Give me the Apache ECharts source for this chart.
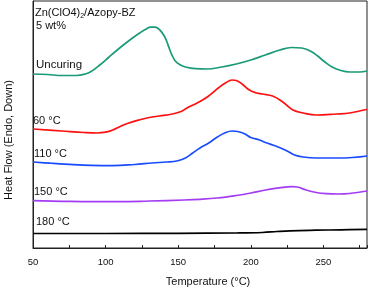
<!DOCTYPE html>
<html><head><meta charset="utf-8">
<script src="https://cdn.jsdelivr.net/npm/echarts@6/dist/echarts.min.js"></script>
<style>html,body{margin:0;padding:0;background:#fff}#c{width:368px;height:290px}</style>
</head><body><div id="c"></div>
<script>
// Heat flow in arbitrary units, temperature in °C
const uncuring = [[50,176],[60,175.5],[70,174.5],[80,174.5],[86,176],[90,178.5],[96,185],[102,192.5],[108,200],[114,207],[119,212.5],[124,217.5],[128,221],[131,222.8],[134,222.8],[137,220.5],[140,215],[142,209],[144,201],[146,194],[148,189],[151,185.5],[155,183],[162,181.3],[170,181],[180,183],[190,186],[200,190],[210,195],[220,200],[228,202.5],[235,202],[241,199],[246,194],[251,188],[256,183],[262,179.5],[268,178],[275,178],[280,179]];
const c60 = [[50,121],[70,119],[85,117.5],[94,117],[100,117.8],[105,120],[110,123.5],[115,126.5],[123,130],[130,132.5],[137,134],[146,136],[152,138.5],[156,142],[163,147],[170,153],[178,162.5],[183,167.5],[187,170],[190,169.5],[194,166],[199,160],[204,157],[208,156],[215,154],[222,148],[229,140],[236,137],[245,135],[259,136],[268,137],[278,140],[280,140.5]];
const c110 = [[50,88],[62,86.8],[75,85.7],[90,84.7],[105,84.3],[120,85.5],[132,87],[142,88],[149,89],[155,92],[160,97],[165,102],[171,107],[177,113],[182,117],[187,119],[191,118.5],[196,116],[200,112.5],[206,110],[210,107.5],[218,103.5],[225,99],[230,95],[236,93],[245,92],[259,92],[270,92.5],[280,94]];
const c150 = [[50,49.3],[70,48.7],[90,48.3],[110,48.3],[130,49],[154,50],[165,50.7],[177,52],[190,54.5],[200,57],[210,60],[222,62.7],[229,63.3],[232,63],[238,60],[245,57.5],[252,56.3],[260,56],[268,56.5],[280,59]];
const c180 = [[50,16.5],[100,16.5],[150,16.7],[190,17],[208,17.5],[218,18.5],[227,19.2],[245,19.8],[262,20.2],[280,20.7]];
const xTicks = [50,100,150,200,250];
const seriesNames = ['Uncuring','60 °C','110 °C','150 °C','180 °C'];
const seriesData = [uncuring,c60,c110,c150,c180];
const colors = ['#1b9a78','#ff1010','#1a4cff','#a43cf5','#000000'];

const chart = echarts.init(document.getElementById('c'));
const font = 'Liberation Sans, Arial, sans-serif';
chart.setOption({
  animation:false,
  grid:{left:33,right:1,top:1,bottom:42,show:true,borderColor:'#222',borderWidth:1},
  xAxis:{type:'value',min:50,max:280,interval:50,
    axisLine:{lineStyle:{color:'#222',width:1}},
    axisTick:{inside:true,length:3,lineStyle:{color:'#222'}},
    minorTick:{show:true,splitNumber:2,length:3,lineStyle:{color:'#222'}},
    axisLabel:{fontFamily:font,fontSize:9.5,color:'#111',margin:9,showMaxLabel:false,
      formatter:v=>xTicks.includes(v)?String(v):''},
    splitLine:{show:false}},
  yAxis:{type:'value',min:2,max:249,
    axisLine:{show:true,lineStyle:{color:'#222',width:1}},
    axisTick:{show:false},axisLabel:{show:false},splitLine:{show:false}},
  series:seriesData.map((d,i)=>({type:'line',name:seriesNames[i],data:d,smooth:0.4,
    showSymbol:false,lineStyle:{color:colors[i],width:1.7}})),
  graphic:[
    {type:'text',x:208,y:282,style:{text:'Temperature (°C)',fontFamily:font,fontSize:11,fill:'#111',align:'center',verticalAlign:'middle'}},
    {type:'text',x:9,y:140,rotation:Math.PI/2,style:{text:'Heat Flow (Endo, Down)',fontFamily:font,fontSize:11,fill:'#111',align:'center',verticalAlign:'middle'}},
    {type:'text',left:35,top:7,style:{text:'Zn(ClO4){s|2}/Azopy-BZ',fontFamily:font,fontSize:11,fill:'#111',
      rich:{s:{fontSize:7,fontFamily:font,fill:'#111',padding:[8,0,0,0]}}}},
    {type:'text',left:36,top:20,style:{text:'5 wt%',fontFamily:font,fontSize:11,fill:'#111'}},
    {type:'text',left:36,top:59,style:{text:seriesNames[0],fontFamily:font,fontSize:11.5,fill:'#111'}},
    {type:'text',left:33,top:115,style:{text:seriesNames[1],fontFamily:font,fontSize:11,fill:'#111'}},
    {type:'text',left:34,top:148,style:{text:seriesNames[2],fontFamily:font,fontSize:11,fill:'#111'}},
    {type:'text',left:34,top:186,style:{text:seriesNames[3],fontFamily:font,fontSize:11,fill:'#111'}},
    {type:'text',left:36,top:216,style:{text:seriesNames[4],fontFamily:font,fontSize:11,fill:'#111'}}
  ]
});
</script></body></html>
